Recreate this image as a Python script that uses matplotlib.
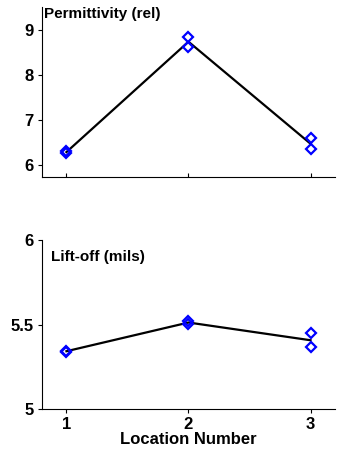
import matplotlib
matplotlib.use('Agg')
import matplotlib.pyplot as plt
import numpy as np

plt.rcParams['font.family'] = ['Liberation Sans', 'DejaVu Sans']
plt.rcParams['font.weight'] = 'bold'

locations = [1, 2, 3]
# two measurements per location
perm_a = [6.27, 8.85, 6.60]
perm_b = [6.31, 8.62, 6.35]
lift_a = [5.340, 5.520, 5.449]
lift_b = [5.345, 5.505, 5.366]

perm_mean = (np.array(perm_a) + np.array(perm_b)) / 2
lift_mean = (np.array(lift_a) + np.array(lift_b)) / 2

fig = plt.figure(figsize=(3.39, 4.49), dpi=100)
ax1 = fig.add_axes([0.124, 0.606, 0.864, 0.378])
ax2 = fig.add_axes([0.124, 0.089, 0.864, 0.376])

def style(ax):
    for s in ['top', 'right']:
        ax.spines[s].set_visible(False)
    ax.tick_params(axis='both', labelsize=12, width=0.8, length=3, pad=3)
    for lbl in ax.get_xticklabels() + ax.get_yticklabels():
        lbl.set_fontweight('bold')

mk = dict(marker='D', ms=5.5, mfc='none', mec='#0000ff', mew=1.6, ls='none')

ax1.plot(locations, perm_mean, color='black', lw=1.6, zorder=2)
ax1.plot(locations, perm_a, **mk, zorder=3)
ax1.plot(locations, perm_b, **mk, zorder=3)
ax1.set_xlim(0.8, 3.2)
ax1.set_ylim(5.74, 9.5)
ax1.set_xticks(locations)
ax1.set_xticklabels([])
ax1.set_yticks([6, 7, 8, 9])
ax1.tick_params(axis='x', direction='in')
style(ax1)
ax1.text(0.005, 1.0, 'Permittivity (rel)', transform=ax1.transAxes,
         ha='left', va='top', fontsize=11, fontweight='bold')

ax2.plot(locations, lift_mean, color='black', lw=1.6, zorder=2)
ax2.plot(locations, lift_a, **mk, zorder=3)
ax2.plot(locations, lift_b, **mk, zorder=3)
ax2.set_xlim(0.8, 3.2)
ax2.set_ylim(5, 6)
ax2.set_xticks(locations)
ax2.set_yticks([5, 5.5, 6])
ax2.set_yticklabels(['5', '5.5', '6'])
style(ax2)
ax2.set_xlabel('Location Number', fontsize=12, fontweight='bold', labelpad=0)
ax2.text(0.03, 0.9, 'Lift-off (mils)', transform=ax2.transAxes,
         ha='left', va='center', fontsize=11, fontweight='bold')

fig.savefig('out.png', dpi=100)
